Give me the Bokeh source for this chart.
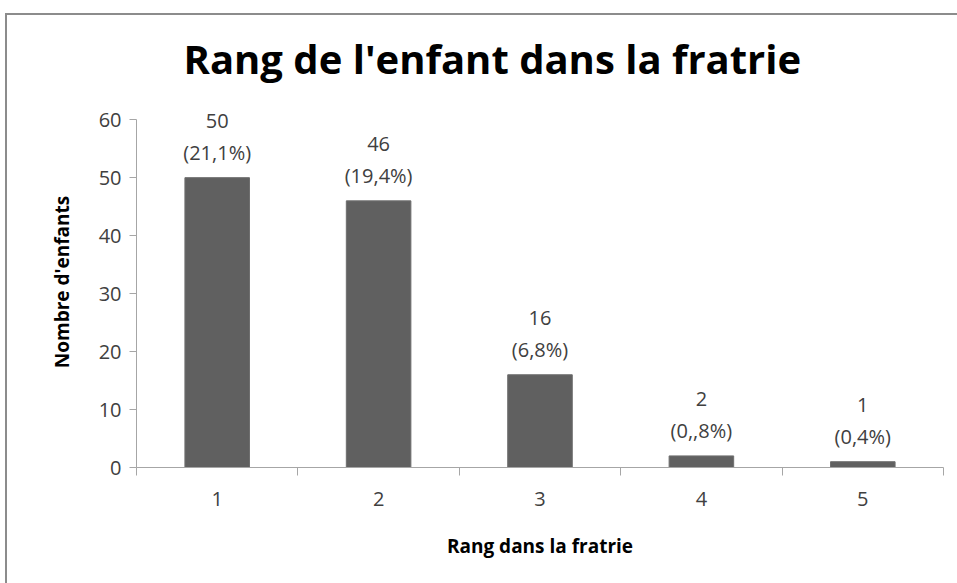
from bokeh.plotting import figure
from bokeh.models import ColumnDataSource, FixedTicker, Range1d, LabelSet
from bokeh.core.properties import value
from bokeh.embed import file_html
from bokeh.resources import INLINE

# Data
rangs = [1, 2, 3, 4, 5]
effectifs = [50, 46, 16, 2, 1]
pourcentages = ["21,1%", "19,4%", "6,8%", "0,,8%", "0,4%"]
y_ticks = [0, 10, 20, 30, 40, 50, 60]

src = ColumnDataSource(dict(x=rangs, top=effectifs,
                            n=[str(v) for v in effectifs],
                            pct=[f"({pc})" for pc in pourcentages]))

FONT = "Open Sans"
TXT = "#404040"
AXC = "#a6a6a6"

p = figure(width=952, height=570, output_backend="svg", toolbar_location=None,
           x_range=Range1d(0.5, 5.5), y_range=Range1d(0, 64),
           min_border_left=129, min_border_right=16,
           min_border_top=81, min_border_bottom=118)
p.styles = {"border-top": "2px solid #8c8c8c", "border-left": "2px solid #8c8c8c",
            "margin-left": "5px", "margin-top": "13px"}
p.outline_line_color = None
p.grid.grid_line_color = None
p.background_fill_color = "white"
p.border_fill_color = "white"

p.vbar(x="x", top="top", width=0.4, bottom=0, source=src,
       fill_color="#606060", line_color="#6e6e6e", line_width=1)

lbl_pct = LabelSet(x="x", y="top", text="pct", source=src, text_align="center",
                   text_baseline="alphabetic", y_offset=18, text_font=value(FONT),
                   text_font_size="20px", text_color=TXT)
lbl_n = LabelSet(x="x", y="top", text="n", source=src, text_align="center",
                 text_baseline="alphabetic", y_offset=50, text_font=value(FONT),
                 text_font_size="20px", text_color=TXT)
p.add_layout(lbl_pct)
p.add_layout(lbl_n)

# Title
p.title.text = "Rang de l'enfant dans la fratrie"
p.title.text_font = FONT
p.title.text_font_size = "40px"
p.title.text_font_style = "bold"
p.title.text_color = "black"
p.title.align = "left"
p.title.offset = 47
p.title.standoff = 22

# X axis
xa = p.xaxis[0]
xa.ticker = FixedTicker(ticks=rangs, minor_ticks=[r - 0.5 for r in rangs] + [rangs[-1] + 0.5])
xa.major_tick_out = 0
xa.major_tick_in = 0
xa.minor_tick_out = 8
xa.minor_tick_in = 0
xa.minor_tick_line_color = AXC
xa.axis_line_color = AXC
xa.major_label_text_font = FONT
xa.major_label_text_font_size = "20px"
xa.major_label_text_color = TXT
xa.major_label_standoff = 16
xa.axis_label = "Rang dans la fratrie"
xa.axis_label_text_font = FONT
xa.axis_label_text_font_size = "19px"
xa.axis_label_text_font_style = "bold"
xa.axis_label_text_color = "black"
xa.axis_label_standoff = 24

# Y axis
ya = p.yaxis[0]
ya.ticker = FixedTicker(ticks=y_ticks, minor_ticks=[])
ya.bounds = (y_ticks[0], y_ticks[-1])
ya.major_tick_out = 7
ya.major_tick_in = 0
ya.major_tick_line_color = AXC
ya.axis_line_color = AXC
ya.major_label_text_font = FONT
ya.major_label_text_font_size = "20px"
ya.major_label_text_color = TXT
ya.major_label_standoff = 8
ya.axis_label = "Nombre d'enfants"
ya.axis_label_text_font = FONT
ya.axis_label_text_font_size = "19px"
ya.axis_label_text_font_style = "bold"
ya.axis_label_text_color = "black"
ya.axis_label_standoff = 21

open("out.html", "w").write(file_html(p, INLINE))
